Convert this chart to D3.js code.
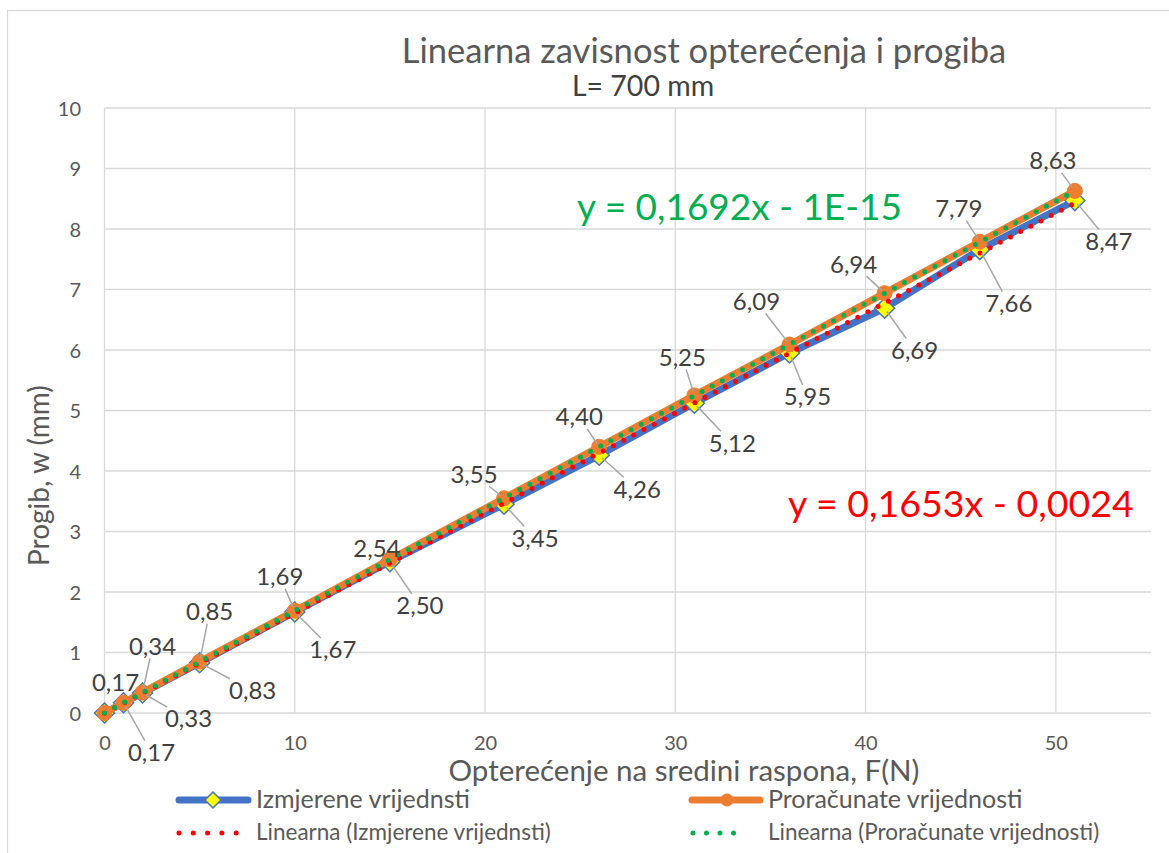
<!DOCTYPE html>
<html><head><meta charset="utf-8">
<script src="https://cdn.jsdelivr.net/npm/d3@7"></script>
<style>
html,body{margin:0;padding:0;background:#fff;}
svg{display:block;font-family:Lato, "Open Sans", sans-serif;}
</style></head>
<body>
<svg id="chart" width="1169" height="853"></svg>
<script>
// ---- data ----
const loads = [0, 1, 2, 5, 10, 15, 21, 26, 31, 36, 41, 46, 51];
const measured = [0, 0.17, 0.33, 0.83, 1.67, 2.50, 3.45, 4.26, 5.12, 5.95, 6.69, 7.66, 8.47];
const computed = [0, 0.17, 0.34, 0.85, 1.69, 2.54, 3.55, 4.40, 5.25, 6.09, 6.94, 7.79, 8.63];
const trendMeasured = [0.1653, -0.0024];   // slope, intercept
const trendComputed = [0.1692, -1e-15];
const eqMeasured = "y = 0,1653x - 0,0024";
const eqComputed = "y = 0,1692x - 1E-15";
const xTicks = [0, 10, 20, 30, 40, 50];
const yTicks = [0, 1, 2, 3, 4, 5, 6, 7, 8, 9, 10];
const title = "Linearna zavisnost opterećenja i progiba";
const subtitle = "L= 700 mm";
const xTitle = "Opterećenje na sredini raspona, F(N)";
const yTitle = "Progib, w (mm)";
const seriesNames = ["Izmjerene vrijednsti", "Proračunate vrijednosti",
  "Linearna (Izmjerene vrijednsti)", "Linearna (Proračunate vrijednosti)"];

// label offsets (pixels, styling only)
const offComputed = [null, [-8,-20], [10,-46], [10,-50], [-15,-34], [-13,-11], [-30,-24], [-20,-30], [-12,-38], [-33,-43], [-31,-29], [-21,-33], [-22,-30]];
const offMeasured = [null, [28,50], [46,26], [53,28], [38,38], [30,44], [31,34], [38,34], [38,40], [18,44], [30,42], [29,54], [34,41]];

const BLUE = "#4472C4", ORANGE = "#ED7D31", RED = "#FF0000", GREEN = "#00B050";
const TXT = "#595959", LBL = "#404040", GRID = "#d9d9d9";

const svg = d3.select("#chart");
const m = {left: 104.5, top: 108, right: 1151, bottom: 713};
const x = d3.scaleLinear().domain([0, 55]).range([m.left, m.right]);
const y = d3.scaleLinear().domain([0, 10]).range([m.bottom, m.top]);

// outer border
svg.append("rect").attr("x", 7.5).attr("y", 10.5).attr("width", 1200).attr("height", 900)
  .attr("fill", "none").attr("stroke", GRID).attr("stroke-width", 1.3);

// gridlines
const g = svg.append("g");
g.selectAll(".hg").data(yTicks).join("line")
  .attr("x1", m.left).attr("x2", m.right).attr("y1", d => y(d)).attr("y2", d => y(d))
  .attr("stroke", GRID).attr("stroke-width", 1.3);
g.selectAll(".vg").data(xTicks).join("line")
  .attr("x1", d => x(d)).attr("x2", d => x(d)).attr("y1", m.top).attr("y2", m.bottom)
  .attr("stroke", GRID).attr("stroke-width", 1.3);

// axes (labels only)
const xAxis = d3.axisBottom(x).tickValues(xTicks).tickSize(0).tickPadding(0).tickFormat(d3.format("d"));
const xa = svg.append("g").attr("transform", `translate(0,${m.bottom})`).call(xAxis);
xa.select(".domain").remove();
xa.selectAll("text").attr("font-size", 20).attr("fill", TXT).attr("dy", 0).attr("y", 37).attr("font-family", "Lato");
const yAxis = d3.axisLeft(y).tickValues(yTicks).tickSize(0).tickPadding(0).tickFormat(d3.format("d"));
const ya = svg.append("g").attr("transform", `translate(81,0)`).call(yAxis);
ya.select(".domain").remove();
ya.selectAll("text").attr("font-size", 20).attr("fill", TXT).attr("dy", "0.35em").attr("x", 0).attr("font-family", "Lato");

// titles
svg.append("text").attr("x", 704).attr("y", 63).attr("text-anchor", "middle")
  .attr("font-size", 34.5).attr("fill", TXT).text(title);
svg.append("text").attr("x", 643).attr("y", 96).attr("text-anchor", "middle")
  .attr("font-size", 28.5).attr("fill", LBL).text(subtitle);
svg.append("text").attr("x", 684).attr("y", 781).attr("text-anchor", "middle")
  .attr("font-size", 29.5).attr("fill", TXT).text(xTitle);
svg.append("text").attr("transform", "translate(49,566) rotate(-90)").attr("text-anchor", "start")
  .attr("font-size", 28).attr("fill", TXT).text(yTitle);

const line = d3.line().x(d => x(d[0])).y(d => y(d[1]));
const ptsM = loads.map((l, i) => [l, measured[i]]);
const ptsC = loads.map((l, i) => [l, computed[i]]);
const diamond = r => `M0,${-r}L${r},0L0,${r}L${-r},0Z`;

// measured series
svg.append("path").attr("d", line(ptsM)).attr("fill", "none").attr("stroke", BLUE)
  .attr("stroke-width", 7).attr("stroke-linejoin", "round").attr("stroke-linecap", "round");
svg.selectAll(".dm").data(ptsM).join("path")
  .attr("transform", d => `translate(${x(d[0])},${y(d[1])})`).attr("d", diamond(10))
  .attr("fill", "#FFFF00").attr("stroke", BLUE).attr("stroke-width", 1.5);

// computed series
svg.append("path").attr("d", line(ptsC)).attr("fill", "none").attr("stroke", ORANGE)
  .attr("stroke-width", 7).attr("stroke-linejoin", "round").attr("stroke-linecap", "round");
svg.selectAll(".dc").data(ptsC).join("circle")
  .attr("cx", d => x(d[0])).attr("cy", d => y(d[1])).attr("r", 7.5)
  .attr("fill", ORANGE).attr("stroke", ORANGE).attr("stroke-width", 1);

// trendlines
function trend(coef, color) {
  const x0 = d3.min(loads), x1 = d3.max(loads);
  svg.append("line").attr("x1", x(x0)).attr("y1", y(coef[0] * x0 + coef[1]))
    .attr("x2", x(x1)).attr("y2", y(coef[0] * x1 + coef[1]))
    .attr("stroke", color).attr("stroke-width", 5).attr("stroke-linecap", "round")
    .attr("stroke-dasharray", "0 11.5");
}
trend(trendMeasured, RED);
trend(trendComputed, GREEN);

// data labels with leader lines
const fmt = v => v.toFixed(2).replace(".", ",");
function labels(pts, offs) {
  pts.forEach((p, i) => {
    const o = offs[i];
    if (!o) return;
    const px = x(p[0]), py = y(p[1]);
    const cx = px + o[0], cy = py + o[1];
    const t = svg.append("text").attr("x", cx).attr("y", cy).attr("dy", "0.35em")
      .attr("text-anchor", "middle").attr("font-size", 24).attr("fill", LBL).text(fmt(p[1]));
    const bb = t.node().getBBox();
    const hw = bb.width / 2 + 2, hh = 12;
    const dx = px - cx, dy = py - cy;
    const s = Math.min(Math.abs(dx) > 0 ? hw / Math.abs(dx) : Infinity, Math.abs(dy) > 0 ? hh / Math.abs(dy) : Infinity);
    const ex = cx + dx * s, ey = cy + dy * s;
    const len = Math.hypot(px - ex, py - ey);
    if (len > 14) {
      const ux = (px - ex) / len, uy = (py - ey) / len;
      svg.append("line").attr("x1", ex).attr("y1", ey)
        .attr("x2", px - ux * 4).attr("y2", py - uy * 4)
        .attr("stroke", "#A6A6A6").attr("stroke-width", 1.5);
    }
  });
}
labels(ptsM, offMeasured);
labels(ptsC, offComputed);

// equations
svg.append("text").attr("x", 577).attr("y", 220).attr("font-size", 37).attr("fill", GREEN).text(eqComputed);
svg.append("text").attr("x", 788).attr("y", 517).attr("font-size", 37.5).attr("fill", RED).text(eqMeasured);

// legend
const lg = svg.append("g");
lg.append("line").attr("x1", 179).attr("x2", 248).attr("y1", 800).attr("y2", 800)
  .attr("stroke", BLUE).attr("stroke-width", 7).attr("stroke-linecap", "round");
lg.append("path").attr("transform", "translate(213,800)").attr("d", diamond(8))
  .attr("fill", "#FFFF00").attr("stroke", BLUE).attr("stroke-width", 1.5);
lg.append("text").attr("x", 256).attr("y", 808).attr("font-size", 25).attr("fill", TXT).text(seriesNames[0]);
lg.append("line").attr("x1", 692).attr("x2", 760).attr("y1", 800).attr("y2", 800)
  .attr("stroke", ORANGE).attr("stroke-width", 7).attr("stroke-linecap", "round");
lg.append("circle").attr("cx", 727).attr("cy", 800).attr("r", 6.5).attr("fill", ORANGE);
lg.append("text").attr("x", 768).attr("y", 808).attr("font-size", 25).attr("fill", TXT).text(seriesNames[1]);
lg.append("line").attr("x1", 179).attr("x2", 237).attr("y1", 833).attr("y2", 833)
  .attr("stroke", RED).attr("stroke-width", 5).attr("stroke-linecap", "round").attr("stroke-dasharray", "0 14.3");
lg.append("text").attr("x", 256).attr("y", 840).attr("font-size", 22.5).attr("fill", TXT).text(seriesNames[2]);
lg.append("line").attr("x1", 693).attr("x2", 747).attr("y1", 833).attr("y2", 833)
  .attr("stroke", GREEN).attr("stroke-width", 5).attr("stroke-linecap", "round").attr("stroke-dasharray", "0 13.5");
lg.append("text").attr("x", 768).attr("y", 840).attr("font-size", 22.5).attr("fill", TXT).text(seriesNames[3]);
</script>
</body></html>
